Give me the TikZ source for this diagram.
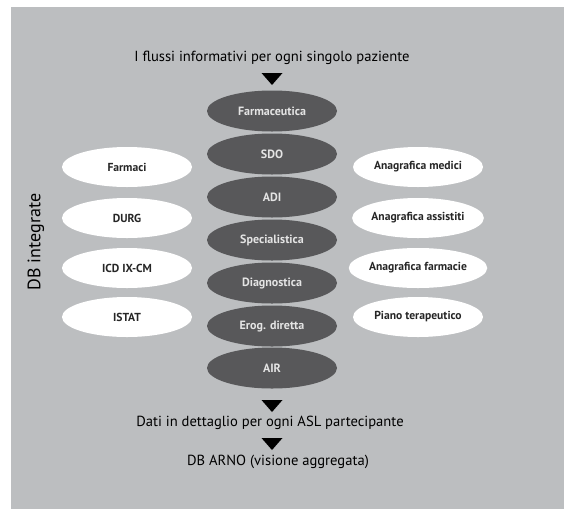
\documentclass[tikz,border=0pt]{standalone}
\usepackage{fontspec}
\setmainfont{PT Sans}
\usetikzlibrary{shapes.geometric}
\definecolor{bg}{RGB}{188,190,192}
\definecolor{dk}{RGB}{88,88,90}
\definecolor{lt}{RGB}{228,228,228}
\begin{document}
\begin{tikzpicture}[x=1pt,y=-1pt,
  dkell/.style={ellipse,fill=dk,minimum width=130pt,minimum height=41pt,inner sep=0pt,text=lt,font=\fontsize{12}{13}\selectfont\bfseries},
  wtell/.style={ellipse,fill=white,minimum width=130pt,minimum height=40pt,inner sep=0pt,text=black!85,font=\fontsize{11.6}{13}\selectfont\bfseries},
  lbl/.style={font=\fontsize{14.6}{16}\selectfont,text=black,inner sep=0pt},
  tri/.style={fill=black}]
\useasboundingbox (0,0) rectangle (564,509);
\fill[white] (0,0) rectangle (564,509);
\fill[bg] (11,7) rectangle (564,509);

\node[lbl] (top) at (272,58) {I flussi informativi per ogni singolo paziente};
\fill[tri] (261.5,73) -- (282.5,73) -- (272,85) -- cycle;

\node[dkell] (farm) at (272,111) {Farmaceutica};
\node[dkell] (sdo) at (272,154) {SDO};
\node[dkell] (adi) at (272,197) {ADI};
\node[dkell] (spec) at (272,240) {Specialistica};
\node[dkell] (diag) at (272,283) {Diagnostica};
\node[dkell] (erog) at (272,326) {Erog. diretta};
\node[dkell] (air) at (272,368) {AIR};

\node[wtell] (farmaci) at (127,167) {Farmaci};
\node[wtell] (durg) at (127,218) {DURG};
\node[wtell] (icd) at (127,268) {ICD IX-CM};
\node[wtell] (istat) at (127,317) {ISTAT};

\node[wtell] (medici) at (418,167) {Anagrafica medici};
\node[wtell] (assistiti) at (418,218) {Anagrafica assistiti};
\node[wtell] (farmacie) at (418,268) {Anagrafica farmacie};
\node[wtell] (piano) at (418,317) {Piano terapeutico};

\node[lbl,rotate=90,font=\fontsize{18}{20}\selectfont] (db) at (36,242) {DB integrate};

\fill[tri] (261.5,400) -- (282.5,400) -- (272,412) -- cycle;
\node[lbl] (dati) at (270,423) {Dati in dettaglio per ogni ASL partecipante};
\fill[tri] (261.5,438) -- (282.5,438) -- (272,450) -- cycle;
\node[lbl] (arno) at (278,462) {DB ARNO (visione aggregata)};
\end{tikzpicture}
\end{document}
